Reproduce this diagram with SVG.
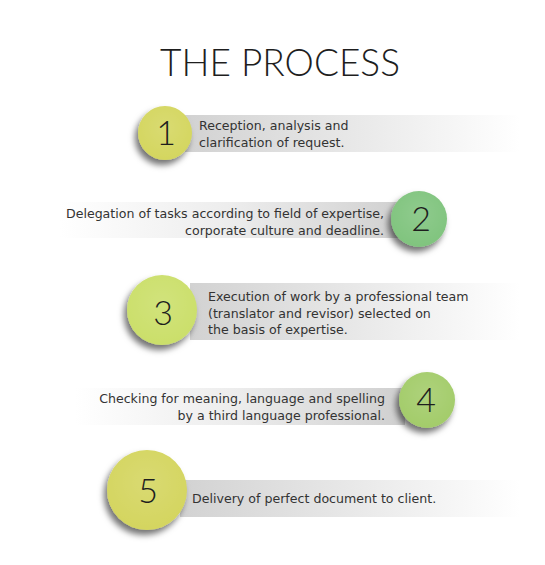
<svg xmlns="http://www.w3.org/2000/svg" width="545" height="565" viewBox="0 0 545 565">
<style>
.title{font-family:"Lato","Liberation Sans",sans-serif;font-weight:300;font-size:37px;fill:#1e1e1e}
.txt{font-family:"DejaVu Sans","Liberation Sans",sans-serif;font-size:12.6px;fill:#333}
.num{font-family:"Lato","Liberation Sans",sans-serif;font-weight:300;font-size:34px;fill:#1e1e1e;text-anchor:middle}
.r{text-anchor:end}
</style>
<defs>
<linearGradient id="bandL" x1="0" y1="0" x2="1" y2="0">
<stop offset="0" stop-color="#d2d2d2"/><stop offset="0.5" stop-color="#e8e8e8"/><stop offset="1" stop-color="#ffffff"/>
</linearGradient>
<linearGradient id="bandR" x1="0" y1="0" x2="1" y2="0">
<stop offset="0" stop-color="#ffffff"/><stop offset="0.5" stop-color="#ececec"/><stop offset="1" stop-color="#cfcfcf"/>
</linearGradient>
<filter id="sh" x="-40%" y="-40%" width="180%" height="190%">
<feDropShadow dx="-3" dy="5" stdDeviation="3" flood-color="#000" flood-opacity="0.55"/>
</filter>
<radialGradient id="hl" cx="0.5" cy="0.4" r="0.6">
<stop offset="0" stop-color="#fff" stop-opacity="0.12"/><stop offset="1" stop-color="#fff" stop-opacity="0"/>
</radialGradient>
</defs>
<rect width="545" height="565" fill="#fff"/>
<text class="title" x="280" y="76" text-anchor="middle">THE PROCESS</text>

<g id="step1">
<rect x="185" y="115" width="335" height="37" fill="url(#bandL)"/>
<circle cx="165" cy="133" r="27" fill="#d4d65f" filter="url(#sh)"/>
<circle cx="165" cy="133" r="27" fill="url(#hl)"/>
<text class="num" x="166" y="145">1</text>
<text class="txt" x="199" y="130">Reception, analysis and</text>
<text class="txt" x="199" y="147">clarification of request.</text>
</g>

<g id="step2">
<rect x="60" y="202" width="350" height="36" fill="url(#bandR)"/>
<circle cx="419" cy="219" r="28" fill="#80c47e" filter="url(#sh)"/>
<circle cx="419" cy="219" r="28" fill="url(#hl)"/>
<text class="num" x="421" y="231">2</text>
<text class="txt r" x="384" y="218">Delegation of tasks according to field of expertise,</text>
<text class="txt r" x="384" y="235">corporate culture and deadline.</text>
</g>

<g id="step3">
<rect x="190" y="283" width="330" height="57" fill="url(#bandL)"/>
<circle cx="162" cy="310" r="35" fill="#cbdf6a" filter="url(#sh)"/>
<circle cx="162" cy="310" r="35" fill="url(#hl)"/>
<text class="num" x="163" y="325">3</text>
<text class="txt" x="208" y="301">Execution of work by a professional team</text>
<text class="txt" x="208" y="318">(translator and revisor) selected on</text>
<text class="txt" x="208" y="334">the basis of expertise.</text>
</g>

<g id="step4">
<rect x="75" y="388" width="330" height="37" fill="url(#bandR)"/>
<circle cx="427" cy="400" r="28" fill="#a3cc6b" filter="url(#sh)"/>
<circle cx="427" cy="400" r="28" fill="url(#hl)"/>
<text class="num" x="426" y="412">4</text>
<text class="txt r" x="385" y="403">Checking for meaning, language and spelling</text>
<text class="txt r" x="385" y="420">by a third language professional.</text>
</g>

<g id="step5">
<rect x="180" y="480" width="340" height="37" fill="url(#bandL)"/>
<circle cx="147" cy="490" r="40" fill="#d4d55e" filter="url(#sh)"/>
<circle cx="147" cy="490" r="40" fill="url(#hl)"/>
<text class="num" x="148" y="503">5</text>
<text class="txt" x="192" y="503">Delivery of perfect document to client.</text>
</g>
</svg>
